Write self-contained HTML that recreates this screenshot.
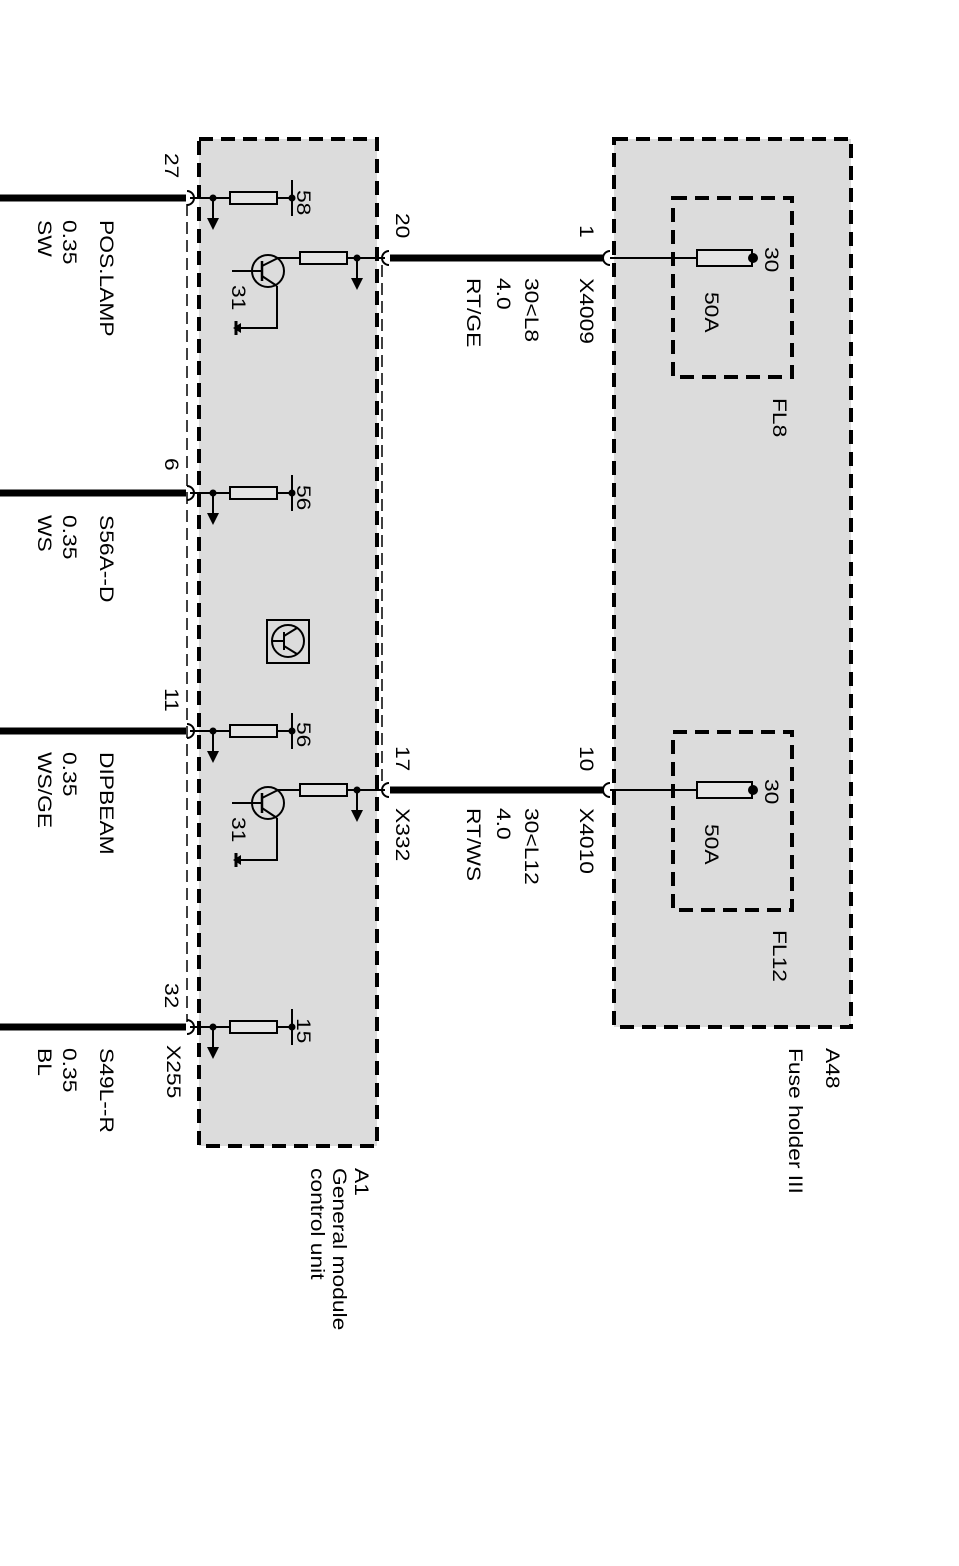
<!DOCTYPE html>
<html><head><meta charset="utf-8"><style>
html,body{margin:0;padding:0;background:#fff}
svg text{font-family:"Liberation Sans",Arial,sans-serif;font-size:19.5px;fill:#000}
</style></head><body>
<svg width="959" height="1561" viewBox="0 0 959 1561" xmlns="http://www.w3.org/2000/svg">
<defs>
<g id="gnd"><line x1="0" y1="0" x2="0" y2="22" stroke="#000" stroke-width="2"/><polygon points="-6,20 6,20 0,32" fill="#000"/></g>
<g id="pin">
  <line x1="190" y1="0" x2="292" y2="0" stroke="#000" stroke-width="2"/>
  <circle cx="213" cy="0" r="3.5" fill="#000"/>
  <use href="#gnd" x="213" y="0"/>
  <rect x="230" y="-6" width="47" height="12" fill="#e4e4e4" stroke="#000" stroke-width="2"/>
  <line x1="292" y1="-18" x2="292" y2="18" stroke="#000" stroke-width="2"/>
  <circle cx="292" cy="0" r="3.5" fill="#000"/>
  <path d="M187,-7 A7,7 0 0 1 187,7" fill="none" stroke="#000" stroke-width="2"/>
  <line x1="0" y1="0" x2="186" y2="0" stroke="#000" stroke-width="7"/>
</g>
<g id="trans">
  <line x1="278" y1="0" x2="385" y2="0" stroke="#000" stroke-width="2"/>
  <rect x="300" y="-6" width="47" height="12" fill="#e4e4e4" stroke="#000" stroke-width="2"/>
  <circle cx="357" cy="0" r="3.5" fill="#000"/>
  <use href="#gnd" x="357" y="0"/>
  <circle cx="268" cy="13" r="16" fill="none" stroke="#000" stroke-width="2"/>
  <line x1="232" y1="13" x2="262" y2="13" stroke="#000" stroke-width="2"/>
  <line x1="262" y1="3" x2="262" y2="23" stroke="#000" stroke-width="2.5"/>
  <line x1="262" y1="8" x2="278" y2="0" stroke="#000" stroke-width="2"/>
  <line x1="262" y1="18" x2="277" y2="28" stroke="#000" stroke-width="2"/>
  <polyline points="277,28 277,70 237,70" fill="none" stroke="#000" stroke-width="2"/>
  <line x1="236" y1="63" x2="236" y2="77" stroke="#000" stroke-width="3"/>
  <polygon points="233,70 241,65 241,75" fill="#000"/>
  <path d="M389,-7 A7,7 0 0 0 389,7" fill="none" stroke="#000" stroke-width="2"/>
  <line x1="390" y1="0" x2="604" y2="0" stroke="#000" stroke-width="7"/>
</g>
<g id="fuse">
  <path d="M610,-7 A7,7 0 0 0 610,7" fill="none" stroke="#000" stroke-width="2"/>
  <line x1="610" y1="0" x2="752" y2="0" stroke="#000" stroke-width="2"/>
  <rect x="697" y="-8" width="55" height="16" fill="#e4e4e4" stroke="#000" stroke-width="2"/>
  <circle cx="753" cy="0" r="5" fill="#000"/>
</g>
</defs>

<rect x="199" y="139" width="178" height="1007" fill="#dcdcdc" stroke="#000" stroke-width="4" stroke-dasharray="14,8"/>
<rect x="614" y="139" width="237" height="888" fill="#dcdcdc" stroke="#000" stroke-width="4" stroke-dasharray="14,8"/>
<rect x="673" y="198" width="119" height="179" fill="none" stroke="#000" stroke-width="4" stroke-dasharray="14,8"/>
<rect x="673" y="732" width="119" height="178" fill="none" stroke="#000" stroke-width="4" stroke-dasharray="14,8"/>
<line x1="187" y1="204" x2="187" y2="1022" stroke="#000" stroke-width="1.5" stroke-dasharray="12,6"/>
<line x1="382" y1="265" x2="382" y2="784" stroke="#000" stroke-width="1.5" stroke-dasharray="12,6"/>

<use href="#pin" y="198"/>
<use href="#pin" y="493"/>
<use href="#pin" y="731"/>
<use href="#pin" y="1027"/>
<use href="#trans" y="258"/>
<use href="#trans" y="790"/>
<use href="#fuse" y="258"/>
<use href="#fuse" y="790"/>

<rect x="267" y="620" width="42" height="43" fill="none" stroke="#000" stroke-width="2"/>
<circle cx="288" cy="641" r="16" fill="none" stroke="#000" stroke-width="2"/>
<line x1="273" y1="641" x2="284" y2="641" stroke="#000" stroke-width="2"/>
<line x1="284" y1="632" x2="284" y2="650" stroke="#000" stroke-width="2"/>
<line x1="284" y1="636" x2="297" y2="628" stroke="#000" stroke-width="2"/>
<line x1="284" y1="646" x2="297" y2="654" stroke="#000" stroke-width="2"/>

<g>
<text transform="translate(165,153) rotate(90) scale(1.17,1)">27</text>
<text transform="translate(165,458) rotate(90) scale(1.17,1)">6</text>
<text transform="translate(165,688) rotate(90) scale(1.17,1)">11</text>
<text transform="translate(165,983) rotate(90) scale(1.17,1)">32</text>
<text transform="translate(167,1045) rotate(90) scale(1.17,1)">X255</text>
<text transform="translate(297,190) rotate(90) scale(1.17,1)">58</text>
<text transform="translate(297,485) rotate(90) scale(1.17,1)">56</text>
<text transform="translate(297,722) rotate(90) scale(1.17,1)">56</text>
<text transform="translate(297,1018) rotate(90) scale(1.17,1)">15</text>
<text transform="translate(232,285) rotate(90) scale(1.17,1)">31</text>
<text transform="translate(232,817) rotate(90) scale(1.17,1)">31</text>
<text transform="translate(100,220) rotate(90) scale(1.17,1)">POS.LAMP</text>
<text transform="translate(63,220) rotate(90) scale(1.17,1)">0.35</text>
<text transform="translate(38,220) rotate(90) scale(1.17,1)">SW</text>
<text transform="translate(100,515) rotate(90) scale(1.17,1)">S56A--D</text>
<text transform="translate(63,515) rotate(90) scale(1.17,1)">0.35</text>
<text transform="translate(38,515) rotate(90) scale(1.17,1)">WS</text>
<text transform="translate(100,752) rotate(90) scale(1.17,1)">DIPBEAM</text>
<text transform="translate(63,752) rotate(90) scale(1.17,1)">0.35</text>
<text transform="translate(38,752) rotate(90) scale(1.17,1)">WS/GE</text>
<text transform="translate(100,1048) rotate(90) scale(1.17,1)">S49L--R</text>
<text transform="translate(63,1048) rotate(90) scale(1.17,1)">0.35</text>
<text transform="translate(38,1048) rotate(90) scale(1.17,1)">BL</text>
<text transform="translate(396,213) rotate(90) scale(1.17,1)">20</text>
<text transform="translate(396,746) rotate(90) scale(1.17,1)">17</text>
<text transform="translate(396,808) rotate(90) scale(1.17,1)">X332</text>
<text transform="translate(580,225) rotate(90) scale(1.17,1)">1</text>
<text transform="translate(580,746) rotate(90) scale(1.17,1)">10</text>
<text transform="translate(580,278) rotate(90) scale(1.17,1)">X4009</text>
<text transform="translate(580,808) rotate(90) scale(1.17,1)">X4010</text>
<text transform="translate(525,278) rotate(90) scale(1.17,1)">30&lt;L8</text>
<text transform="translate(497,278) rotate(90) scale(1.17,1)">4.0</text>
<text transform="translate(467,278) rotate(90) scale(1.17,1)">RT/GE</text>
<text transform="translate(525,808) rotate(90) scale(1.17,1)">30&lt;L12</text>
<text transform="translate(497,808) rotate(90) scale(1.17,1)">4.0</text>
<text transform="translate(467,808) rotate(90) scale(1.17,1)">RT/WS</text>
<text transform="translate(765,247) rotate(90) scale(1.17,1)">30</text>
<text transform="translate(765,779) rotate(90) scale(1.17,1)">30</text>
<text transform="translate(705,292) rotate(90) scale(1.17,1)">50A</text>
<text transform="translate(705,824) rotate(90) scale(1.17,1)">50A</text>
<text transform="translate(773,398) rotate(90) scale(1.17,1)">FL8</text>
<text transform="translate(773,930) rotate(90) scale(1.17,1)">FL12</text>
<text transform="translate(826,1048) rotate(90) scale(1.17,1)">A48</text>
<text transform="translate(789,1048) rotate(90) scale(1.17,1)">Fuse holder III</text>
<text transform="translate(355,1168) rotate(90) scale(1.17,1)">A1</text>
<text transform="translate(333,1168) rotate(90) scale(1.17,1)">General module</text>
<text transform="translate(311,1168) rotate(90) scale(1.17,1)">control unit</text>
</g>
</svg>
</body></html>
